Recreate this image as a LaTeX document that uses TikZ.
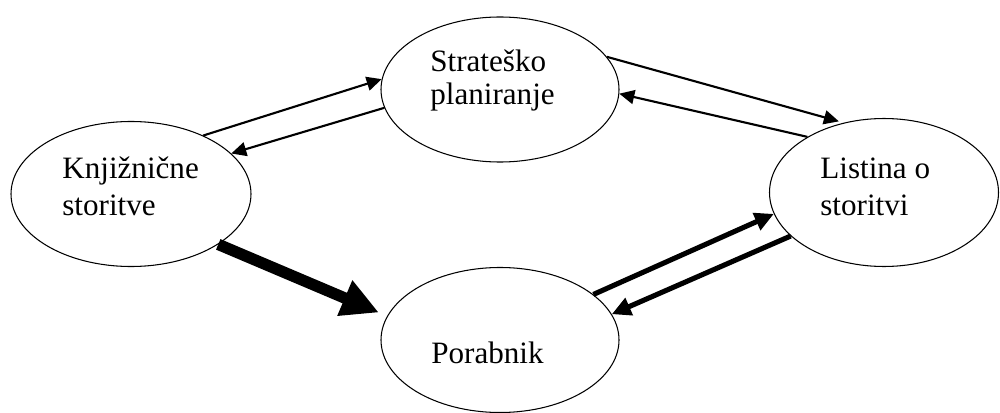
\documentclass[tikz,border=0pt]{standalone}
\usepackage{fontspec}
\setmainfont{Liberation Serif}
\usetikzlibrary{shapes.geometric,arrows.meta}
\begin{document}
\begin{tikzpicture}[
  bubble/.style={draw, ellipse, line width=0.6pt, inner sep=0pt},
  lbl/.style={anchor=base west, inner sep=0pt, font=\fontsize{17.7}{20}\selectfont},
  thinarrow/.style={line width=1.2pt, -{Triangle[length=0.3cm,width=0.28cm]}},
  thickarrow/.style={line width=2.9pt, -{Triangle[length=0.38cm,width=0.36cm]}},
  heavyarrow/.style={line width=6.5pt, -{Triangle[length=0.74cm,width=0.72cm]}}
]
\useasboundingbox (0,0) rectangle (20,-8.26);
\node[bubble, minimum width=4.76cm, minimum height=2.9cm] (str) at (10,-1.79) {};
\node[bubble, minimum width=4.8cm, minimum height=2.9cm] (knj) at (2.62,-3.88) {};
\node[bubble, minimum width=4.58cm, minimum height=2.96cm] (lis) at (17.68,-3.85) {};
\node[bubble, minimum width=4.76cm, minimum height=2.9cm] (por) at (10,-6.8) {};

\node[lbl] (str1) at (8.6,-1.44) {Strateško};
\node[lbl] (str2) at (8.6,-2.10) {planiranje};
\node[lbl] (knj1) at (1.24,-3.56) {Knjižnične};
\node[lbl] (knj2) at (1.24,-4.31) {storitve};
\node[lbl] (lis1) at (16.4,-3.56) {Listina o};
\node[lbl] (lis2) at (16.4,-4.31) {storitvi};
\node[lbl] (por1) at (8.62,-7.26) {Porabnik};

\draw[thinarrow] (knj.39.5) -- (str.175.5);
\draw[thinarrow] (str.189.2) -- (knj.22.4);
\draw[thinarrow, shorten >=0.1cm] (str.17.9) -- (lis.120.6);
\draw[thinarrow] (lis.144.6) -- (str.358.8);
\draw[thickarrow] (por.26.6) -- (lis.191);
\draw[thickarrow] (lis.205.2) -- (por.13.8);
\draw[heavyarrow, shorten >=0.18cm] (knj.330.8) -- (por.168.4);
\end{tikzpicture}
\end{document}
